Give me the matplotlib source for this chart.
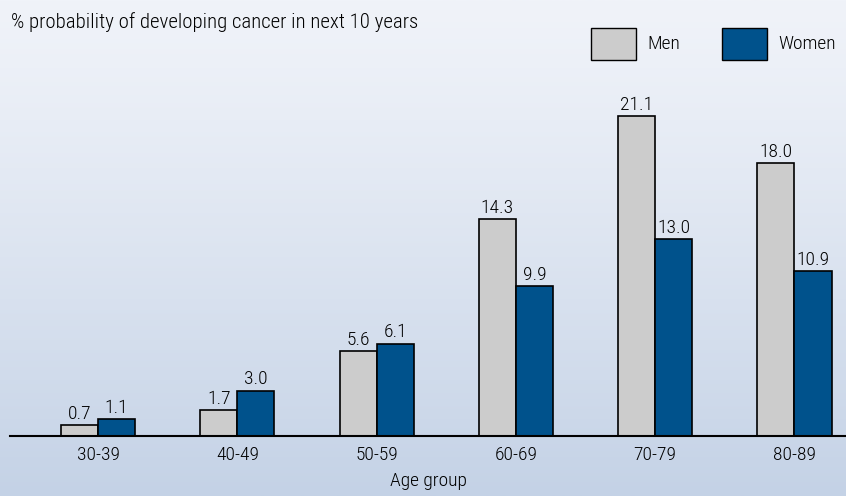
import numpy as np
import matplotlib.pyplot as plt
from matplotlib.patches import Rectangle

plt.rcParams['font.family'] = ['Roboto Condensed', 'Archivo Narrow', 'DejaVu Sans']
plt.rcParams['font.weight'] = 300
plt.rcParams['axes.labelweight'] = 300

age_groups = ["30-39", "40-49", "50-59", "60-69", "70-79", "80-89"]
men = [0.7, 1.7, 5.6, 14.3, 21.1, 18.0]
women = [1.1, 3.0, 6.1, 9.9, 13.0, 10.9]

men_color = "#cccccc"
women_color = "#00528c"

fig = plt.figure(figsize=(8.46, 4.96), dpi=100)

# gradient background
bg = fig.add_axes([0, 0, 1, 1], zorder=-10)
grad = np.linspace(0, 1, 256).reshape(-1, 1)
top = np.array([0xf0, 0xf3, 0xf9]) / 255
bottom = np.array([0xc4, 0xd2, 0xe6]) / 255
img = top + (bottom - top) * grad[:, :, None] ** 1.2
bg.imshow(img, aspect='auto', extent=[0, 1, 0, 1])
bg.axis('off')

ax = fig.add_axes([10 / 846, 60 / 496, 836 / 846, 376 / 496])
ax.patch.set_alpha(0)

x = np.arange(len(age_groups))
w = 0.266
b1 = ax.bar(x - w / 2, men, w, color=men_color, edgecolor="black", linewidth=1.2, label="Men")
b2 = ax.bar(x + w / 2, women, w, color=women_color, edgecolor="black", linewidth=1.2, label="Women")

for bars, vals in ((b1, men), (b2, women)):
    for bar, v in zip(bars, vals):
        ax.annotate(f"{v:.1f}", (bar.get_x() + bar.get_width() / 2, v),
                    xytext=(0, 1.5), textcoords="offset points",
                    ha="center", va="bottom", fontsize=14)

ax.set_xlim(-0.632, 5.37)
ax.set_ylim(0, 24.8)
for s in ("top", "right", "left"):
    ax.spines[s].set_visible(False)
ax.spines["bottom"].set_linewidth(1.5)
ax.set_yticks([])
ax.set_xticks(x)
ax.set_xticklabels(age_groups, fontsize=14)
ax.tick_params(axis="x", length=0, pad=7)
ax.set_xlabel("Age group", fontsize=14, labelpad=6, fontweight=300)

fig.text(11 / 846, 1 - 22 / 496, "% probability of developing cancer in next 10 years",
         fontsize=15, va="center", ha="left")

# legend
for x0, col, lab in ((591, men_color, "Men"), (722, women_color, "Women")):
    fig.add_artist(Rectangle((x0 / 846, 1 - 60 / 496), 45 / 846, 32 / 496,
                             transform=fig.transFigure, facecolor=col,
                             edgecolor="black", linewidth=1.0))
    fig.text((x0 + 56) / 846, 1 - 44 / 496, lab, fontsize=14, va="center", ha="left")

fig.savefig("out.png", dpi=100)
